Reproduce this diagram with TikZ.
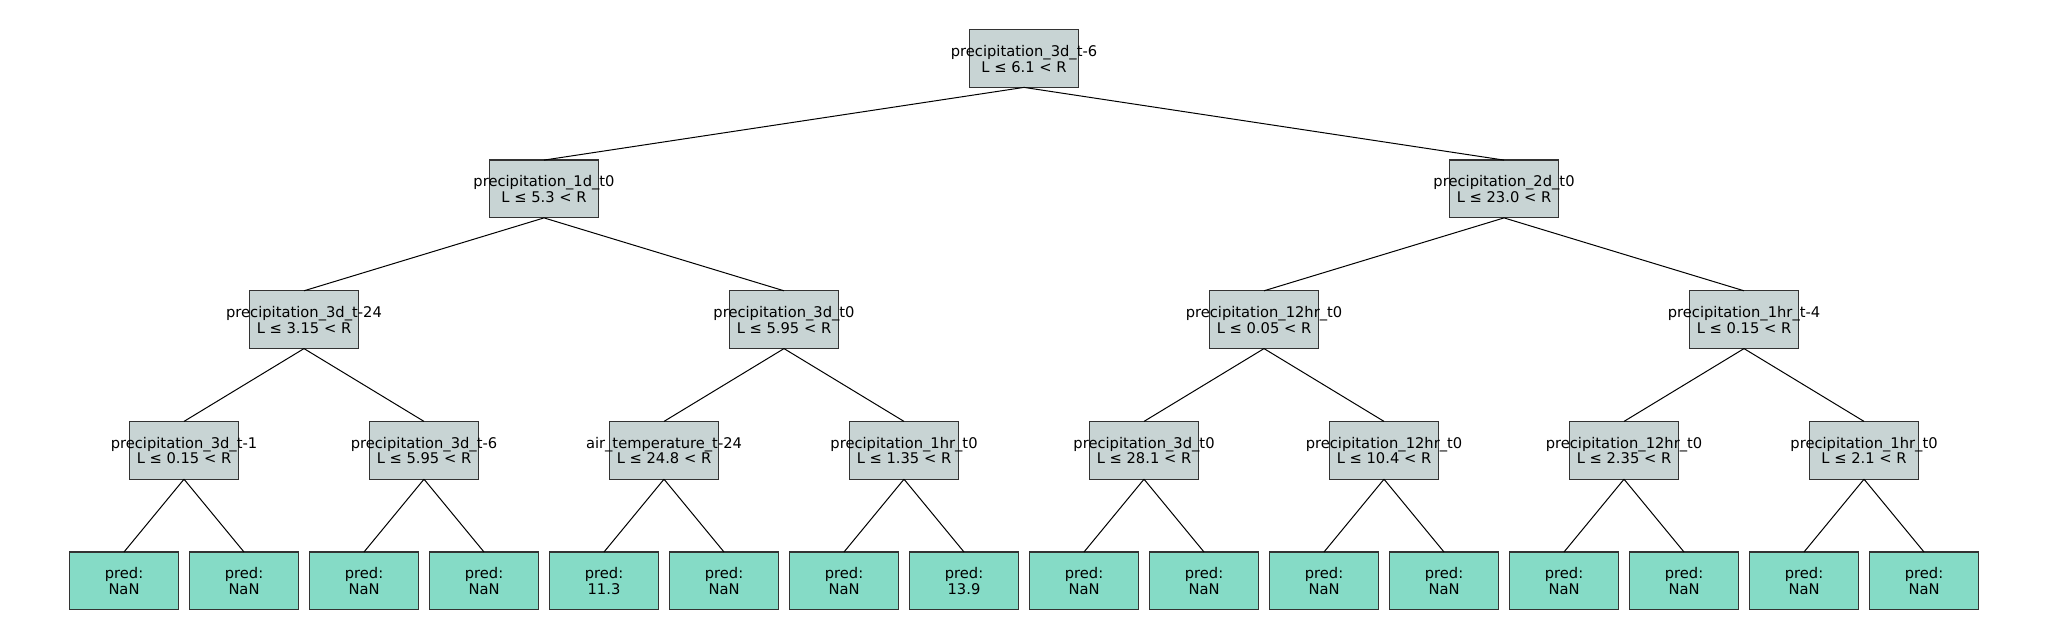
\documentclass[tikz,border=0pt]{standalone}
\usepackage{fontspec}
\setmainfont{DejaVu Sans}
\definecolor{splitfill}{HTML}{C8D4D4}
\definecolor{leaffill}{HTML}{85DBC6}
\definecolor{boxedge}{HTML}{333333}
\tikzset{
  boxbase/.style={draw=boxedge, line width=0.6pt, minimum width=54.4pt, minimum height=28.9pt, inner sep=0pt, outer sep=0pt},
  splitbox/.style={boxbase, fill=splitfill},
  leafbox/.style={boxbase, fill=leaffill},
  lbl/.style={anchor=base, inner sep=0pt, font=\fontsize{7.35}{8}\selectfont},
  edge/.style={draw=black, line width=0.5pt}
}
\newcommand\treebox[6]{%
  \node[#4] (#1) at (#2,#3) {};
  \node[lbl] (#1-a) at ([yshift=1pt]#1.center) {#5};
  \node[lbl] (#1-b) at ([yshift=-6.85pt]#1.center) {#6};
}
\begin{document}
\begin{tikzpicture}[x=0.5pt,y=-0.5pt]
\useasboundingbox (0,0) rectangle (2048,640);
% root
\treebox{r}{1024}{58.5}{splitbox}{precipitation\_3d\_t-6}{L ≤ 6.1 < R}
% level 1
\treebox{h0}{544}{189}{splitbox}{precipitation\_1d\_t0}{L ≤ 5.3 < R}
\treebox{h1}{1504}{189}{splitbox}{precipitation\_2d\_t0}{L ≤ 23.0 < R}
% level 2
\treebox{k0}{304}{319.7}{splitbox}{precipitation\_3d\_t-24}{L ≤ 3.15 < R}
\treebox{k1}{784}{319.7}{splitbox}{precipitation\_3d\_t0}{L ≤ 5.95 < R}
\treebox{k2}{1264}{319.7}{splitbox}{precipitation\_12hr\_t0}{L ≤ 0.05 < R}
\treebox{k3}{1744}{319.7}{splitbox}{precipitation\_1hr\_t-4}{L ≤ 0.15 < R}
% level 3
\treebox{m0}{184}{450.3}{splitbox}{precipitation\_3d\_t-1}{L ≤ 0.15 < R}
\treebox{m1}{424}{450.3}{splitbox}{precipitation\_3d\_t-6}{L ≤ 5.95 < R}
\treebox{m2}{664}{450.3}{splitbox}{air\_temperature\_t-24}{L ≤ 24.8 < R}
\treebox{m3}{904}{450.3}{splitbox}{precipitation\_1hr\_t0}{L ≤ 1.35 < R}
\treebox{m4}{1144}{450.3}{splitbox}{precipitation\_3d\_t0}{L ≤ 28.1 < R}
\treebox{m5}{1384}{450.3}{splitbox}{precipitation\_12hr\_t0}{L ≤ 10.4 < R}
\treebox{m6}{1624}{450.3}{splitbox}{precipitation\_12hr\_t0}{L ≤ 2.35 < R}
\treebox{m7}{1864}{450.3}{splitbox}{precipitation\_1hr\_t0}{L ≤ 2.1 < R}
% leaves
\foreach \i/\v in {0/NaN,1/NaN,2/NaN,3/NaN,4/11.3,5/NaN,6/NaN,7/13.9,8/NaN,9/NaN,10/NaN,11/NaN,12/NaN,13/NaN,14/NaN,15/NaN}{
  \treebox{f\i}{124+120*\i}{580.9}{leafbox}{pred:}{\v}
}
% edges
\foreach \i in {0,1}{\draw[edge] (r.south) -- (h\i.north);}
\foreach \i in {0,...,3}{\pgfmathtruncatemacro\p{\i/2}\draw[edge] (h\p.south) -- (k\i.north);}
\foreach \i in {0,...,7}{\pgfmathtruncatemacro\p{\i/2}\draw[edge] (k\p.south) -- (m\i.north);}
\foreach \i in {0,...,15}{\pgfmathtruncatemacro\p{\i/2}\draw[edge] (m\p.south) -- (f\i.north);}
\end{tikzpicture}
\end{document}
